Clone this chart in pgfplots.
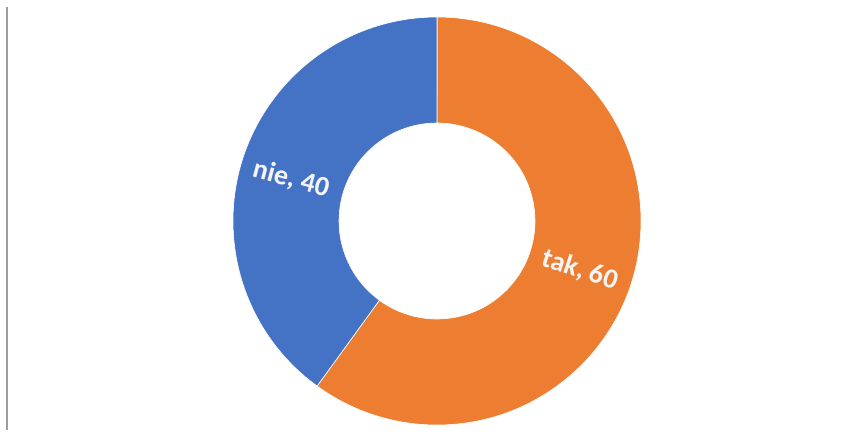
\documentclass[border=0pt]{standalone}
\usepackage{pgfplots}
\pgfplotsset{compat=1.18}
\usepackage{pgfplotstable}
\usepackage{fontspec}
\setmainfont{Carlito}
\definecolor{cBlue}{HTML}{4472C4}
\definecolor{cOrange}{HTML}{ED7D31}
\pgfplotstableread{
label value
tak 60
nie 40
}\donut
\pgfplotstablegetelem{0}{value}\of\donut \let\vtak\pgfplotsretval
\pgfplotstablegetelem{1}{value}\of\donut \let\vnie\pgfplotsretval
\pgfmathsetmacro\atak{360*(\vtak/(\vtak+\vnie))}
\pgfmathsetmacro\anie{360*(\vnie/(\vtak+\vnie))}
\pgfmathsetmacro\aend{90-\atak}
\def\cx{437}\def\cy{215}\def\ro{204}\def\ri{98}
\begin{document}
\begin{tikzpicture}
\begin{axis}[
  x=0.5pt, y=0.5pt,
  xmin=0, xmax=857, ymin=0, ymax=436,
  hide axis, clip=false,
]
\path[use as bounding box] (axis cs:0,0) rectangle (axis cs:857,436);
\draw[black!38, line width=0.75pt] (axis cs:7,429) -- (axis cs:7,6);
\fill[cOrange, draw=white, line width=0.3pt]
   (axis cs:{\cx+\ro*cos(90)},{\cy+\ro*sin(90)}) arc[start angle=90, delta angle=-\atak, radius={0.5*\ro pt}]
   -- (axis cs:{\cx+\ri*cos(\aend)},{\cy+\ri*sin(\aend)}) arc[start angle=\aend, delta angle=\atak, radius={0.5*\ri pt}] -- cycle;
\fill[cBlue, draw=white, line width=0.3pt]
   (axis cs:{\cx+\ro*cos(\aend)},{\cy+\ro*sin(\aend)}) arc[start angle=\aend, delta angle=-\anie, radius={0.5*\ro pt}]
   -- (axis cs:{\cx+\ri*cos(90)},{\cy+\ri*sin(90)}) arc[start angle=90, delta angle=\anie, radius={0.5*\ri pt}] -- cycle;
\node[rotate=-15, text=white!96!black, font=\bfseries\fontsize{14}{16}\selectfont] at (axis cs:291,257) {nie, 40};
\node[rotate=-18, text=white!96!black, font=\bfseries\fontsize{14}{16}\selectfont] at (axis cs:580,166) {tak, 60};
\end{axis}
\end{tikzpicture}
\end{document}
